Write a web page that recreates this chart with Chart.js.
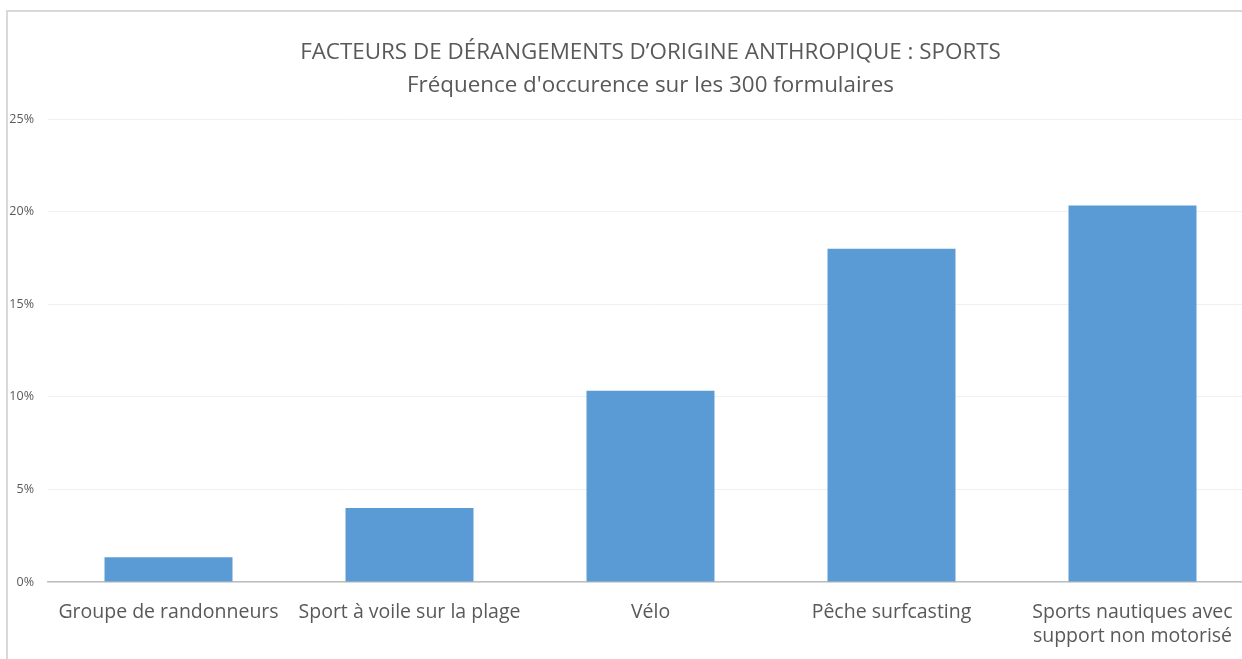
<!DOCTYPE html>
<html>
<head>
<meta charset="utf-8">
<script src="https://cdn.jsdelivr.net/npm/chart.js@4/dist/chart.umd.min.js"></script>
<style>
  html, body { margin:0; padding:0; background:#fff; overflow:hidden; width:1242px; height:659px; }
  #frame { position:absolute; left:6px; top:10px; width:1400px; height:700px; border-left:2px solid #d9d9d9; border-top:2px solid #d9d9d9; }
  #c { position:absolute; left:0; top:0; }
</style>
</head>
<body>
<div id="frame"></div>
<canvas id="c" width="1298" height="659"></canvas>
<script>
const categories = ['Groupe de randonneurs', 'Sport à voile sur la plage', 'Vélo', 'Pêche surfcasting', ['Sports nautiques avec', 'support non motorisé']];
const frequencyPct = [1.33, 4, 10.33, 18, 20.33];
const titleText = 'FACTEURS DE DÉRANGEMENTS D’ORIGINE ANTHROPIQUE : SPORTS';
const subtitleText = "Fréquence d'occurence sur les 300 formulaires";
const yMax = 25;
const yStep = 5;

const FONT = '"Open Sans", sans-serif';
const GREY = '#595959';

// Title block centred on the plot area (as in the spreadsheet chart)
const titlePlugin = {
  id: 'centredTitles',
  afterDraw(chart) {
    const { ctx, chartArea } = chart;
    const cx = (chartArea.left + chartArea.right) / 2;
    ctx.save();
    ctx.fillStyle = GREY;
    ctx.textAlign = 'center';
    ctx.textBaseline = 'middle';
    ctx.font = '22.4px ' + FONT;
    ctx.fillText(titleText, cx, 53);
    ctx.font = '22.4px ' + FONT;
    ctx.fillText(subtitleText, cx, 86);
    ctx.restore();
  }
};

new Chart(document.getElementById('c'), {
  type: 'bar',
  data: {
    labels: categories,
    datasets: [{
      data: frequencyPct,
      backgroundColor: '#5b9bd5',
      borderWidth: 0,
      categoryPercentage: 1,
      barPercentage: 0.531
    }]
  },
  plugins: [titlePlugin],
  options: {
    responsive: false,
    animation: false,
    layout: { padding: { left: 6, right: 45, top: 119, bottom: 0 } },
    plugins: {
      legend: { display: false },
      tooltip: { enabled: false },
      title: { display: false },
      subtitle: { display: false }
    },
    scales: {
      x: {
        grid: { display: false, drawTicks: false },
        border: { display: true, color: '#bfbfbf', width: 1.5 },
        ticks: {
          color: GREY,
          font: { family: FONT, size: 19.5, lineHeight: 1.23 },
          padding: 18,
          maxRotation: 0,
          minRotation: 0,
          autoSkip: false
        },
        afterFit: (s) => { s.height = 77; }
      },
      y: {
        min: 0,
        max: yMax,
        grid: { color: '#f0f0f0', lineWidth: 1, drawTicks: false },
        border: { display: false },
        ticks: {
          stepSize: yStep,
          color: GREY,
          font: { family: FONT, size: 12.5 },
          padding: 14,
          callback: (v) => v + '%'
        },
        afterFit: (s) => { s.width = 42; }
      }
    }
  }
});
</script>
</body>
</html>
